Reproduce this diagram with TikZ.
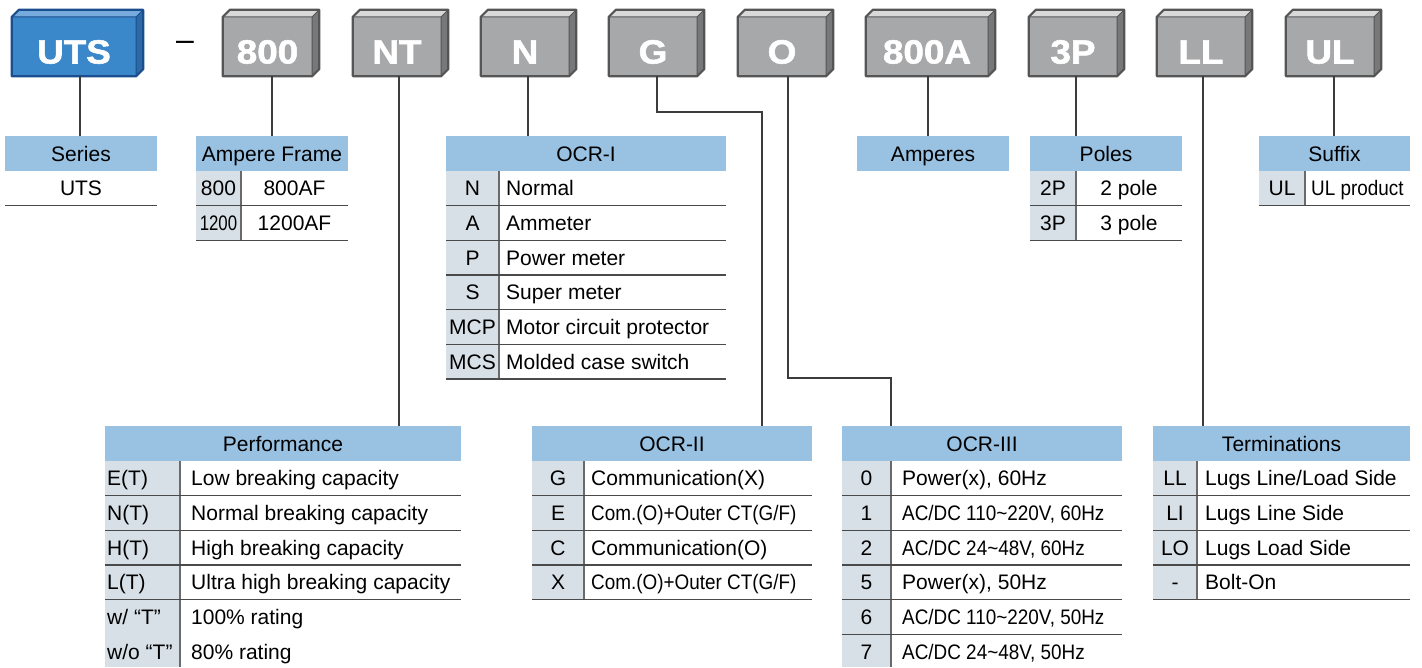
\documentclass[tikz,border=0pt]{standalone}
\usepackage{fontspec}
\setmainfont{Liberation Sans}
\newfontfamily\boxfont{Liberation Sans Bold}[FakeBold=1.6]
\definecolor{hdrblue}{HTML}{98C1E2}
\definecolor{keyfill}{HTML}{D8E0E7}
\definecolor{rowgray}{HTML}{4A4A4A}
\definecolor{divgray}{HTML}{6A6A6A}
\definecolor{connc}{HTML}{3C3C3C}
\definecolor{bfront}{HTML}{3A88C9}
\definecolor{btop}{HTML}{78ABDD}
\definecolor{bside}{HTML}{2C69A5}
\definecolor{bedge}{HTML}{1B4E8E}
\definecolor{gfront}{HTML}{A7A8AA}
\definecolor{gtop}{HTML}{D9D9D9}
\definecolor{gside}{HTML}{77787A}
\definecolor{gedge}{HTML}{555555}
\newcommand\sqz[2][0.9]{\scalebox{#1}[1]{#2}}
\newcommand\cell[5]{\node[#1] (#2) at (#3,#4) {#5};}
\newcommand\partbox[5]{%
  \pgfmathsetmacro\pbw{#3-#2-7}%
  \pgfmathsetmacro\pbc{(#2+#3-7)/2}%
  \node[fill=#5front, minimum width=\pbw pt, minimum height=59pt, inner sep=0pt] (#1) at (\pbc,46.5) {};
  \fill[#5top] (#1.north west) -- ++(7pt,7pt) -- ([shift={(7pt,7pt)}]#1.north east) -- (#1.north east) -- cycle;
  \fill[#5side] (#1.north east) -- ++(7pt,7pt) -- ([shift={(7pt,7pt)}]#1.south east) -- (#1.south east) -- cycle;
  \draw[#5edge, line width=1pt] (#1.north west) -- (#1.north east) -- (#1.south east) (#1.north east) -- ++(7pt,7pt);
  \draw[#5edge, line width=2.2pt, line join=round] (#1.south west) -- (#1.north west) -- ++(7pt,7pt) -- ([shift={(7pt,7pt)}]#1.north east) -- ([shift={(7pt,7pt)}]#1.south east) -- (#1.south east) -- cycle;
  \node[boxtxt] (#1-t) at ([yshift=-17pt]#1.center) {\sqz[1.1]{#4}};
}
\begin{document}
\begin{tikzpicture}[x=1pt,y=-1pt,
  txt/.style={inner sep=0pt, text height=15pt, text depth=0pt, font=\fontsize{21}{25}\selectfont},
  hdr/.style={txt, fill=hdrblue, minimum height=35pt},
  kc/.style={txt},
  kl/.style={txt, anchor=west},
  dl/.style={txt, anchor=west},
  dc/.style={txt},
  rowline/.style={draw=rowgray, line width=1.5pt},
  divline/.style={draw=divgray, line width=1.6pt},
  conn/.style={draw=connc, line width=1.3pt},
  boxtxt/.style={anchor=base, inner sep=0pt, text=white, font=\boxfont\fontsize{33.5}{33.5}\selectfont}]
\useasboundingbox (0,0) rectangle (1422,667);

% ---------- part boxes ----------
\partbox{buts}{12}{143}{UTS}{b}
\partbox{b800}{223}{319}{800}{g}
\partbox{bnt}{353}{448}{NT}{g}
\partbox{bn}{481}{576}{N}{g}
\partbox{bg}{609}{704}{G}{g}
\partbox{bo}{738}{833}{O}{g}
\partbox{ba}{866}{995}{800A}{g}
\partbox{bp}{1029}{1124}{3P}{g}
\partbox{bll}{1157}{1252}{LL}{g}
\partbox{bul}{1286}{1381}{UL}{g}
\node[anchor=base, inner sep=0pt, font=\fontsize{32}{32}\selectfont] (dash) at (185,50) {–};

% ---------- top headers ----------
\node[hdr, minimum width=152pt] (ser) at (81,153.5) {Series};
\node[hdr, minimum width=152pt] (amp) at (272,153.5) {Ampere Frame};
\node[hdr, minimum width=280pt] (ocr1) at (586,153.5) {OCR-I};
\node[hdr, minimum width=152pt] (ampr) at (933,153.5) {Amperes};
\node[hdr, minimum width=152pt] (pol) at (1106,153.5) {Poles};
\node[hdr, minimum width=151pt] (suf) at (1334.5,153.5) {Suffix};

% ---------- bottom headers ----------
\node[hdr, minimum width=356pt] (perf) at (283,443.5) {Performance};
\node[hdr, minimum width=280pt] (ocr2) at (672,443.5) {OCR-II};
\node[hdr, minimum width=280pt] (ocr3) at (982,443.5) {OCR-III};
\node[hdr, minimum width=257pt] (term) at (1281.5,443.5) {Terminations};

% ---------- Series ----------
\draw[rowline] (5,205.7) -- (157,205.7);
\cell{dc}{s1}{81}{188.3}{UTS}

% ---------- Ampere Frame ----------
\fill[keyfill] (196,171) rectangle (241,240.3);
\draw[divline] (241,171) -- (241,240.3);
\foreach \yy in {205.7,240.3} \draw[rowline] (196,\yy) -- (348,\yy);
\cell{kc}{a1k}{218.5}{188.3}{800}
\cell{dc}{a1d}{294.5}{188.3}{800AF}
\cell{kc}{a2k}{218.5}{223}{\sqz[0.8]{1200}}
\cell{dc}{a2d}{294.5}{223}{1200AF}

% ---------- OCR-I ----------
\fill[keyfill] (446,171) rectangle (499,379);
\draw[divline] (499,171) -- (499,379);
\foreach \yy in {205.7,240.3,275,309.7,344.3,379} \draw[rowline] (446,\yy) -- (726,\yy);
\cell{kc}{o1k}{472.5}{188.3}{N}
\cell{dl}{o1d}{506}{188.3}{Normal}
\cell{kc}{o2k}{472.5}{223}{A}
\cell{dl}{o2d}{506}{223}{Ammeter}
\cell{kc}{o3k}{472.5}{257.7}{P}
\cell{dl}{o3d}{506}{257.7}{Power meter}
\cell{kc}{o4k}{472.5}{292.3}{S}
\cell{dl}{o4d}{506}{292.3}{Super meter}
\cell{kc}{o5k}{472.5}{327}{MCP}
\cell{dl}{o5d}{506}{327}{Motor circuit protector}
\cell{kc}{o6k}{472.5}{361.7}{MCS}
\cell{dl}{o6d}{506}{361.7}{Molded case switch}

% ---------- Poles ----------
\fill[keyfill] (1030,171) rectangle (1076,240.3);
\draw[divline] (1076,171) -- (1076,240.3);
\foreach \yy in {205.7,240.3} \draw[rowline] (1030,\yy) -- (1182,\yy);
\cell{kc}{p1k}{1053}{188.3}{2P}
\cell{dc}{p1d}{1129}{188.3}{2 pole}
\cell{kc}{p2k}{1053}{223}{3P}
\cell{dc}{p2d}{1129}{223}{3 pole}

% ---------- Suffix ----------
\fill[keyfill] (1259,171) rectangle (1305,205.7);
\draw[divline] (1305,171) -- (1305,205.7);
\draw[rowline] (1259,205.7) -- (1410,205.7);
\cell{kc}{u1k}{1282}{188.3}{UL}
\cell{dl}{u1d}{1311}{188.3}{\sqz{UL product}}

% ---------- Performance ----------
\fill[keyfill] (105,461) rectangle (180,667);
\draw[divline] (180,461) -- (180,667);
\foreach \yy in {495.7,530.3,565,599.7} \draw[rowline] (105,\yy) -- (461,\yy);
\cell{kl}{e1k}{107}{478.3}{E(T)}
\cell{dl}{e1d}{191}{478.3}{Low breaking capacity}
\cell{kl}{e2k}{107}{513}{N(T)}
\cell{dl}{e2d}{191}{513}{Normal breaking capacity}
\cell{kl}{e3k}{107}{547.7}{H(T)}
\cell{dl}{e3d}{191}{547.7}{High breaking capacity}
\cell{kl}{e4k}{107}{582.3}{L(T)}
\cell{dl}{e4d}{191}{582.3}{Ultra high breaking capacity}
\cell{kl}{e5k}{107}{617}{w/ “T”}
\cell{dl}{e5d}{191}{617}{100\% rating}
\cell{kl}{e6k}{107}{651.7}{w/o “T”}
\cell{dl}{e6d}{191}{651.7}{80\% rating}

% ---------- OCR-II ----------
\fill[keyfill] (532,461) rectangle (584,599.7);
\draw[divline] (584,461) -- (584,599.7);
\foreach \yy in {495.7,530.3,565,599.7} \draw[rowline] (532,\yy) -- (812,\yy);
\cell{kc}{c1k}{558}{478.3}{G}
\cell{dl}{c1d}{591}{478.3}{Communication(X)}
\cell{kc}{c2k}{558}{513}{E}
\cell{dl}{c2d}{591}{513}{\sqz{Com.(O)+Outer CT(G/F)}}
\cell{kc}{c3k}{558}{547.7}{C}
\cell{dl}{c3d}{591}{547.7}{Communication(O)}
\cell{kc}{c4k}{558}{582.3}{X}
\cell{dl}{c4d}{591}{582.3}{\sqz{Com.(O)+Outer CT(G/F)}}

% ---------- OCR-III ----------
\fill[keyfill] (842,461) rectangle (891,667);
\draw[divline] (891,461) -- (891,667);
\foreach \yy in {495.7,530.3,565,599.7,634.3} \draw[rowline] (842,\yy) -- (1122,\yy);
\cell{kc}{d1k}{866.5}{478.3}{0}
\cell{dl}{d1d}{902}{478.3}{Power(x), 60Hz}
\cell{kc}{d2k}{866.5}{513}{1}
\cell{dl}{d2d}{902}{513}{\sqz{AC/DC 110\textasciitilde220V, 60Hz}}
\cell{kc}{d3k}{866.5}{547.7}{2}
\cell{dl}{d3d}{902}{547.7}{\sqz{AC/DC 24\textasciitilde48V, 60Hz}}
\cell{kc}{d4k}{866.5}{582.3}{5}
\cell{dl}{d4d}{902}{582.3}{Power(x), 50Hz}
\cell{kc}{d5k}{866.5}{617}{6}
\cell{dl}{d5d}{902}{617}{\sqz{AC/DC 110\textasciitilde220V, 50Hz}}
\cell{kc}{d6k}{866.5}{651.7}{7}
\cell{dl}{d6d}{902}{651.7}{\sqz{AC/DC 24\textasciitilde48V, 50Hz}}

% ---------- Terminations ----------
\fill[keyfill] (1153,461) rectangle (1197,599.7);
\draw[divline] (1197,461) -- (1197,599.7);
\foreach \yy in {495.7,530.3,565,599.7} \draw[rowline] (1153,\yy) -- (1410,\yy);
\cell{kc}{t1k}{1175}{478.3}{LL}
\cell{dl}{t1d}{1205}{478.3}{Lugs Line/Load Side}
\cell{kc}{t2k}{1175}{513}{LI}
\cell{dl}{t2d}{1205}{513}{Lugs Line Side}
\cell{kc}{t3k}{1175}{547.7}{LO}
\cell{dl}{t3d}{1205}{547.7}{Lugs Load Side}
\cell{kc}{t4k}{1175}{582.3}{-}
\cell{dl}{t4d}{1205}{582.3}{Bolt-On}

% ---------- connectors ----------
\coordinate (cuts) at (80,0);
\coordinate (c800) at (272,0);
\coordinate (cnt) at (399,0);
\coordinate (cn) at (528,0);
\coordinate (cg1) at (657,112);
\coordinate (cg2) at (762,112);
\coordinate (co1) at (788,378);
\coordinate (co2) at (891,378);
\coordinate (ca) at (928,0);
\coordinate (cp) at (1076,0);
\coordinate (cll) at (1203,0);
\coordinate (cul) at (1334,0);
\draw[conn] (cuts |- buts.south) -- (cuts |- ser.north);
\draw[conn] (c800 |- b800.south) -- (c800 |- amp.north);
\draw[conn] (cnt |- bnt.south) -- (cnt |- perf.north);
\draw[conn] (cn |- bn.south) -- (cn |- ocr1.north);
\draw[conn] (cg1 |- bg.south) -- (cg1) -- (cg2) -- (cg2 |- ocr2.north);
\draw[conn] (co1 |- bo.south) -- (co1) -- (co2) -- (co2 |- ocr3.north);
\draw[conn] (ca |- ba.south) -- (ca |- ampr.north);
\draw[conn] (cp |- bp.south) -- (cp |- pol.north);
\draw[conn] (cll |- bll.south) -- (cll |- term.north);
\draw[conn] (cul |- bul.south) -- (cul |- suf.north);
\end{tikzpicture}
\end{document}
